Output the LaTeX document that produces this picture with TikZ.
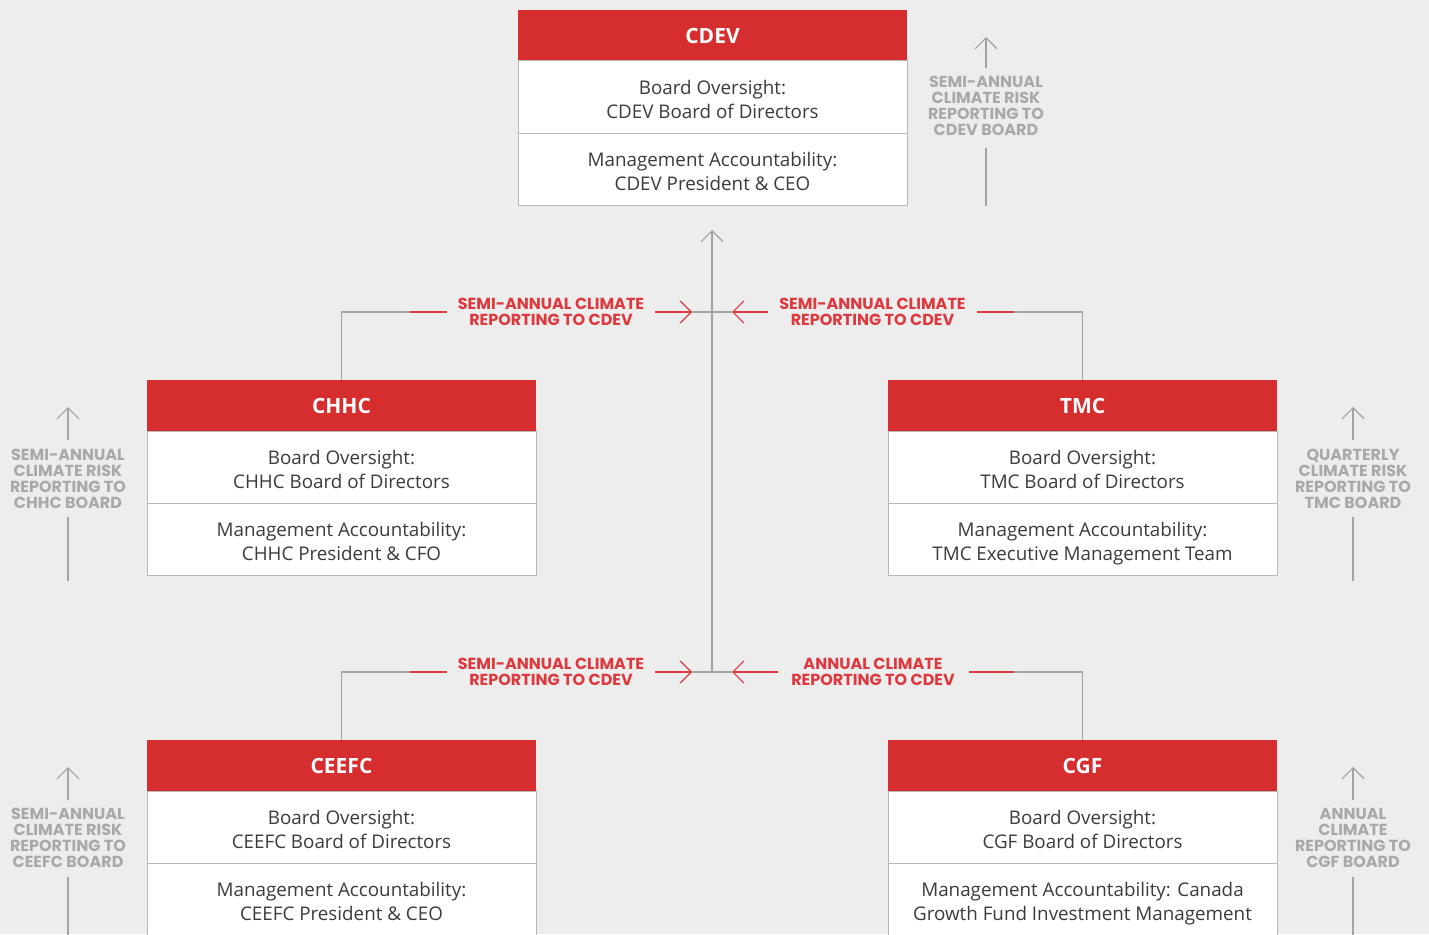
\documentclass[tikz,border=0pt]{standalone}
\usepackage{fontspec}
\setmainfont{Open Sans}
\newfontfamily\capsfont{Poppins}
\usepackage{tikz}
\usetikzlibrary{positioning,arrows.meta}
\definecolor{cdevred}{HTML}{D62D2F}
\definecolor{labelred}{HTML}{DD3A40}
\definecolor{paper}{HTML}{EDEDED}
\definecolor{linegray}{HTML}{A3A3A3}
\definecolor{boxgray}{HTML}{B8B8B8}
\definecolor{bodytext}{HTML}{3B3B3B}
\definecolor{notegray}{HTML}{A9A9A9}

\begin{document}
\begin{tikzpicture}[x=1pt,y=-1pt,
  head/.style={fill=cdevred, text=white, minimum width=389pt, minimum height=51pt,
    inner sep=0pt, outer sep=0pt, font=\fontsize{21}{24}\selectfont\bfseries},
  cell/.style={draw=boxgray, fill=white, line width=1pt, minimum width=389pt,
    minimum height=72pt, inner sep=0pt, outer sep=0pt, align=center,
    text=bodytext, font=\fontsize{18.8}{24}\selectfont,
    text height=48.4pt, text depth=6pt},
  wire/.style={draw=linegray, line width=1.2pt},
  feed/.style={draw=labelred, line width=1.2pt},
  tip/.style={-{Straight Barb[length=11pt,width=22pt]}},
  redlabel/.style={text=labelred, align=center, inner sep=0pt,
    font=\capsfont\bfseries\fontsize{16}{16}\selectfont},
  note/.style={text=notegray, align=center, inner sep=0pt,
    font=\capsfont\bfseries\fontsize{16}{16}\selectfont}]
  \useasboundingbox (0,0) rectangle (1429,934);
  \clip (0,0) rectangle (1429,934);
  % Background
  \fill[paper] (0,0) rectangle (1429,934);

  % CDEV
  \node[head] (cdev) at (712.5,35.5) {CDEV};
  \node[cell, below=0pt of cdev] (cdevboard) {Board Oversight:\\CDEV Board of Directors};
  \node[cell, below=0pt of cdevboard] (cdevmgmt) {Management Accountability:\\CDEV President \& CEO};
  % CHHC
  \node[head] (chhc) at (341.5,405.5) {CHHC};
  \node[cell, below=0pt of chhc] (chhcboard) {Board Oversight:\\CHHC Board of Directors};
  \node[cell, below=0pt of chhcboard] (chhcmgmt) {Management Accountability:\\CHHC President \& CFO};
  % TMC
  \node[head] (tmc) at (1082.5,405.5) {TMC};
  \node[cell, below=0pt of tmc] (tmcboard) {Board Oversight:\\TMC Board of Directors};
  \node[cell, below=0pt of tmcboard] (tmcmgmt) {Management Accountability:\\TMC Executive Management Team};
  % CEEFC
  \node[head] (ceefc) at (341.5,765.5) {CEEFC};
  \node[cell, below=0pt of ceefc] (ceefcboard) {Board Oversight:\\CEEFC Board of Directors};
  \node[cell, below=0pt of ceefcboard] (ceefcmgmt) {Management Accountability:\\CEEFC President \& CEO};
  % CGF
  \node[head] (cgf) at (1082.5,765.5) {CGF};
  \node[cell, below=0pt of cgf] (cgfboard) {Board Oversight:\\CGF Board of Directors};
  \node[cell, below=0pt of cgfboard] (cgfmgmt) {Management Accountability: Canada\\Growth Fund Investment Management};

  % Spine up to CDEV
  \coordinate (hub) at (712,672);
  \coordinate (spinetop) at (712,230);
  \draw[wire, tip] (hub) -- (spinetop);

  % First row of reporting lines
  \coordinate (la) at (410,312);  \coordinate (lb) at (447,312);
  \coordinate (lc) at (655,312);  \coordinate (ld) at (692,312);
  \coordinate (rd) at (732,312);  \coordinate (rc) at (768,312);
  \coordinate (rb) at (977,312);  \coordinate (ra) at (1014,312);
  \draw[wire] (chhc.north) |- (la);
  \draw[feed] (la) -- (lb);
  \node[redlabel] (chhcfeed) at (551,312) {SEMI-ANNUAL CLIMATE\\REPORTING TO CDEV};
  \draw[feed, tip] (lc) -- (ld);
  \draw[wire] (ld) -- (rd);
  \draw[feed, tip] (rc) -- (rd);
  \node[redlabel] (tmcfeed) at (872.5,312) {SEMI-ANNUAL CLIMATE\\REPORTING TO CDEV};
  \draw[feed] (rb) -- (ra);
  \draw[wire] (ra) -| (tmc.north);

  % Second row of reporting lines
  \coordinate (lla) at (410,672);  \coordinate (llb) at (447,672);
  \coordinate (llc) at (655,672);  \coordinate (lld) at (692,672);
  \coordinate (rrd) at (732,672);  \coordinate (rrc) at (778,672);
  \coordinate (rrb) at (969,672);  \coordinate (rra) at (1014,672);
  \draw[wire] (ceefc.north) |- (lla);
  \draw[feed] (lla) -- (llb);
  \node[redlabel] (ceefcfeed) at (551,672) {SEMI-ANNUAL CLIMATE\\REPORTING TO CDEV};
  \draw[feed, tip] (llc) -- (lld);
  \draw[wire] (lld) -- (rrd);
  \draw[feed, tip] (rrc) -- (rrd);
  \node[redlabel] (cgffeed) at (873,672) {ANNUAL CLIMATE\\REPORTING TO CDEV};
  \draw[feed] (rrb) -- (rra);
  \draw[wire] (rra) -| (cgf.north);

  % Board reporting notes
  \node[note] (cdevnote) at (986,106) {SEMI-ANNUAL\\CLIMATE RISK\\REPORTING TO\\CDEV BOARD};
  \coordinate (cdevup) at (986,37);
  \draw[wire, tip] (986,68) -- (cdevup);
  \draw[wire] (986,148) -- (986,206);

  \node[note] (chhcnote) at (68,479) {SEMI-ANNUAL\\CLIMATE RISK\\REPORTING TO\\CHHC BOARD};
  \coordinate (chhcup) at (68,407);
  \draw[wire, tip] (68,440) -- (chhcup);
  \draw[wire] (68,517) -- (68,581);

  \node[note] (tmcnote) at (1353,479) {QUARTERLY\\CLIMATE RISK\\REPORTING TO\\TMC BOARD};
  \coordinate (tmcup) at (1353,407);
  \draw[wire, tip] (1353,440) -- (tmcup);
  \draw[wire] (1353,517) -- (1353,581);

  \node[note] (ceefcnote) at (68,838) {SEMI-ANNUAL\\CLIMATE RISK\\REPORTING TO\\CEEFC BOARD};
  \coordinate (ceefcup) at (68,767);
  \draw[wire, tip] (68,800) -- (ceefcup);
  \draw[wire] (68,877) -- (68,940);

  \node[note] (cgfnote) at (1353,838) {ANNUAL\\CLIMATE\\REPORTING TO\\CGF BOARD};
  \coordinate (cgfup) at (1353,767);
  \draw[wire, tip] (1353,800) -- (cgfup);
  \draw[wire] (1353,877) -- (1353,940);
\end{tikzpicture}
\end{document}
